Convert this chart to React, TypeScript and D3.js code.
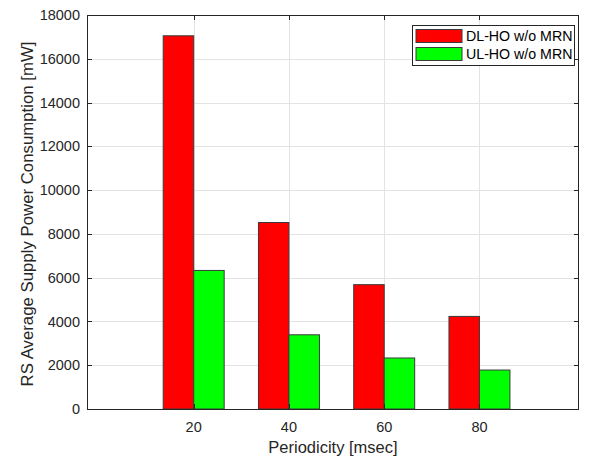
import React, { useRef, useEffect } from 'react';
import * as d3 from 'd3';

const periods = [20, 40, 60, 80];
const dlValues = [17050, 8520, 5680, 4230];
const ulValues = [6330, 3390, 2330, 1780];
const seriesNames = ['DL-HO w/o MRN', 'UL-HO w/o MRN'];
const seriesColors = ['#ff0000', '#00ff00'];
const yTicks = [0, 2000, 4000, 6000, 8000, 10000, 12000, 14000, 16000, 18000];

const App = () => {
  const svgRef = useRef<SVGSVGElement>(null);

  useEffect(() => {
    const svg = d3.select(svgRef.current);
    svg.selectAll('*').remove();

    const width = 589;
    const height = 459;
    const margin = { top: 15, right: 10, bottom: 50, left: 87 };
    const font = 'Liberation Sans, Arial, Helvetica, sans-serif';

    const x = d3.scaleLinear()
      .domain([-2.4, 100.9])
      .range([margin.left, width - margin.right]);

    const y = d3.scaleLinear()
      .domain([0, 18000])
      .range([height - margin.bottom, margin.top]);

    const barW = 6.4;
    const tickLen = 5;
    const axisColor = '#262626';

    // grid
    const grid = svg.append('g').attr('stroke', '#e3e3e3').attr('stroke-width', 1);
    grid.selectAll('line.gy')
      .data(yTicks)
      .join('line')
      .attr('x1', x.range()[0]).attr('x2', x.range()[1])
      .attr('y1', d => Math.round(y(d)) + 0.5).attr('y2', d => Math.round(y(d)) + 0.5);
    grid.selectAll('line.gx')
      .data(periods)
      .join('line')
      .attr('x1', d => Math.round(x(d)) + 0.5).attr('x2', d => Math.round(x(d)) + 0.5)
      .attr('y1', y.range()[0]).attr('y2', y.range()[1]);

    // bars
    const series = [dlValues, ulValues];
    series.forEach((vals, si) => {
      svg.append('g')
        .selectAll('rect')
        .data(vals)
        .join('rect')
        .attr('x', (d, i) => x(periods[i] + (si - 1) * barW))
        .attr('y', d => y(d))
        .attr('width', x(barW) - x(0))
        .attr('height', d => y(0) - y(d))
        .attr('fill', seriesColors[si])
        .attr('stroke', '#3a3a3a')
        .attr('stroke-width', 1);
    });

    // box
    const [x0, x1] = x.range();
    const [yb, yt] = y.range();
    svg.append('rect')
      .attr('x', x0 + 0.5).attr('y', yt + 0.5)
      .attr('width', x1 - x0 - 1).attr('height', yb - yt)
      .attr('fill', 'none')
      .attr('stroke', axisColor)
      .attr('stroke-width', 1);

    // ticks inward
    const tk = svg.append('g').attr('stroke', axisColor).attr('stroke-width', 1);
    yTicks.forEach(t => {
      const yy = Math.round(y(t)) + 0.5;
      tk.append('line').attr('x1', x0).attr('x2', x0 + tickLen).attr('y1', yy).attr('y2', yy);
      tk.append('line').attr('x1', x1 - tickLen).attr('x2', x1).attr('y1', yy).attr('y2', yy);
    });
    periods.forEach(p => {
      const xx = Math.round(x(p)) + 0.5;
      tk.append('line').attr('x1', xx).attr('x2', xx).attr('y1', yb).attr('y2', yb - tickLen);
      tk.append('line').attr('x1', xx).attr('x2', xx).attr('y1', yt).attr('y2', yt + tickLen);
    });

    // tick labels
    svg.append('g')
      .selectAll('text')
      .data(yTicks)
      .join('text')
      .attr('x', x0 - 7)
      .attr('y', d => y(d))
      .attr('dy', '0.35em')
      .attr('text-anchor', 'end')
      .attr('font-family', font)
      .attr('font-size', 14.5)
      .attr('fill', axisColor)
      .text(d => d);

    svg.append('g')
      .selectAll('text')
      .data(periods)
      .join('text')
      .attr('x', d => x(d))
      .attr('y', yb + 23)
      .attr('text-anchor', 'middle')
      .attr('font-family', font)
      .attr('font-size', 14.5)
      .attr('fill', axisColor)
      .text(d => d);

    // axis labels
    svg.append('text')
      .attr('x', (x0 + x1) / 2)
      .attr('y', height - 6)
      .attr('text-anchor', 'middle')
      .attr('font-family', font)
      .attr('font-size', 16.5)
      .attr('fill', axisColor)
      .text('Periodicity [msec]');

    svg.append('text')
      .attr('transform', `translate(33, ${(yb + yt) / 2 + 2}) rotate(-90)`)
      .attr('text-anchor', 'middle')
      .attr('font-family', font)
      .attr('font-size', 16.8)
      .attr('fill', axisColor)
      .text('RS Average Supply Power Consumption [mW]');

    // legend
    const lg = svg.append('g').attr('transform', 'translate(412, 25)');
    lg.append('rect')
      .attr('x', 0.5).attr('y', 0.5)
      .attr('width', 162).attr('height', 40)
      .attr('fill', '#fff')
      .attr('stroke', axisColor)
      .attr('stroke-width', 1);
    seriesNames.forEach((name, i) => {
      lg.append('rect')
        .attr('x', 4).attr('y', 4.5 + i * 18)
        .attr('width', 46).attr('height', 13)
        .attr('fill', seriesColors[i])
        .attr('stroke', '#3a3a3a')
        .attr('stroke-width', 1);
      lg.append('text')
        .attr('x', 54).attr('y', 11 + i * 18)
        .attr('dy', '0.35em')
        .attr('font-family', font)
        .attr('font-size', 14.2)
        .attr('fill', '#000')
        .text(name);
    });
  }, []);

  return <svg ref={svgRef} width={589} height={459} style={{ position: 'absolute', left: 0, top: 0, background: '#fff' }}></svg>;
};

export default App;
